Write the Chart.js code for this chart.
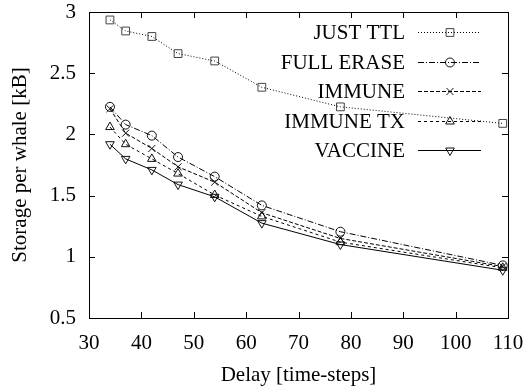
<!DOCTYPE html>
<html>
<head>
<meta charset="utf-8">
<script src="https://cdn.jsdelivr.net/npm/chart.js@4/dist/chart.umd.min.js"></script>
<style>html,body{margin:0;padding:0;background:#fff}</style>
</head>
<body>
<canvas id="c" width="526" height="390"></canvas>
<script>
var delays = [34, 37, 42, 47, 54, 63, 78, 109];
var seriesNames = ['JUST TTL', 'FULL ERASE', 'IMMUNE', 'IMMUNE TX', 'VACCINE'];
var justTtl   = [2.935, 2.845, 2.80, 2.66, 2.60, 2.385, 2.225, 2.09];
var fullErase = [2.225, 2.08, 1.99, 1.815, 1.655, 1.42, 1.205, 0.93];
var immune    = [2.21, 2.01, 1.885, 1.735, 1.61, 1.36, 1.15, 0.92];
var immuneTx  = [2.06, 1.92, 1.80, 1.68, 1.505, 1.33, 1.12, 0.91];
var vaccine   = [1.92, 1.80, 1.71, 1.59, 1.49, 1.275, 1.10, 0.89];
var xTicks = [30, 40, 50, 60, 70, 80, 90, 100, 110];
var yTicks = [0.5, 1, 1.5, 2, 2.5, 3];

var FONT = '"Liberation Serif", "DejaVu Serif", serif';
var styles = [
    {dash: [1, 2],       point: 'rect',     radius: 5.5, rot: 0},
    {dash: [6, 2, 1, 2], point: 'circle',   radius: 4.5, rot: 0},
    {dash: [4, 2],       point: 'crossRot', radius: 5,   rot: 0},
    {dash: [3, 3],       point: 'triangle', radius: 5,   rot: 0},
    {dash: [],           point: 'triangle', radius: 5,   rot: 180}
];
var values = [justTtl, fullErase, immune, immuneTx, vaccine];

function pairs(ys) {
    return delays.map(function(d, i) { return {x: d, y: ys[i]}; });
}

var datasets = values.map(function(ys, i) {
    var s = styles[i];
    return {
        label: seriesNames[i],
        data: pairs(ys),
        borderColor: '#000',
        borderWidth: 1,
        borderDash: s.dash,
        pointStyle: s.point,
        pointRadius: s.radius,
        pointRotation: s.rot,
        pointBorderColor: i == 0 ? '#444' : '#111',
        pointBorderWidth: 1,
        pointBackgroundColor: 'rgba(0,0,0,0)',
        tension: 0
    };
});

// gnuplot style box with inward ticks on all sides
var frame = {
    id: 'frame',
    afterDraw: function(chart) {
        var ctx = chart.ctx, a = chart.chartArea;
        var xs = chart.scales.x, ys = chart.scales.y, len = 6;
        ctx.save();
        ctx.strokeStyle = '#000';
        ctx.lineWidth = 1;
        ctx.setLineDash([]);
        ctx.strokeRect(Math.round(a.left) + 0.5, Math.round(a.top) + 0.5,
            Math.round(a.right - a.left), Math.round(a.bottom - a.top));
        ctx.beginPath();
        xTicks.forEach(function(v) {
            var px = Math.round(xs.getPixelForValue(v)) + 0.5;
            ctx.moveTo(px, a.bottom); ctx.lineTo(px, a.bottom - len);
            ctx.moveTo(px, a.top); ctx.lineTo(px, a.top + len);
        });
        yTicks.forEach(function(v) {
            var py = Math.round(ys.getPixelForValue(v)) + 0.5;
            ctx.moveTo(a.left, py); ctx.lineTo(a.left + len, py);
            ctx.moveTo(a.right, py); ctx.lineTo(a.right - len, py);
        });
        ctx.stroke();
        ctx.restore();
    }
};

function marker(ctx, kind, rot, r, x, y) {
    ctx.beginPath();
    if (kind == 'rect') {
        var s = r * Math.SQRT1_2;
        ctx.rect(x - s, y - s, 2 * s, 2 * s);
    } else if (kind == 'circle') {
        ctx.arc(x, y, r, 0, Math.PI * 2);
    } else if (kind == 'crossRot') {
        var c = r * Math.SQRT1_2;
        ctx.moveTo(x - c, y - c); ctx.lineTo(x + c, y + c);
        ctx.moveTo(x - c, y + c); ctx.lineTo(x + c, y - c);
    } else {
        var t = rot * Math.PI / 180;
        for (var k = 0; k < 3; k++) {
            var ang = t - Math.PI / 2 + k * 2 * Math.PI / 3;
            var px = x + Math.cos(ang) * r, py = y + Math.sin(ang) * r;
            if (k == 0) ctx.moveTo(px, py); else ctx.lineTo(px, py);
        }
        ctx.closePath();
    }
    ctx.stroke();
}

// legend: text right aligned, then line sample with marker
var keyBox = {
    id: 'keyBox',
    afterDraw: function(chart) {
        var ctx = chart.ctx;
        var rows = [32, 62, 91, 121, 150];
        ctx.save();
        ctx.font = '21px ' + FONT;
        ctx.fillStyle = '#000';
        ctx.textAlign = 'right';
        ctx.textBaseline = 'middle';
        chart.data.datasets.forEach(function(ds, i) {
            var y = rows[i];
            ctx.fillText(ds.label, 405, y + 1);
            ctx.strokeStyle = '#000';
            ctx.lineWidth = 1;
            ctx.setLineDash(ds.borderDash);
            ctx.beginPath();
            ctx.moveTo(418, y + 0.5); ctx.lineTo(481, y + 0.5);
            ctx.stroke();
            ctx.setLineDash([]);
            ctx.strokeStyle = ds.pointBorderColor;
            marker(ctx, ds.pointStyle, ds.pointRotation, ds.pointRadius, 450, y + 0.5);
        });
        ctx.restore();
    }
};

function draw() {
    new Chart(document.getElementById('c').getContext('2d'), {
        type: 'line',
        data: {datasets: datasets},
        options: {
            responsive: false,
            animation: false,
            layout: {padding: 0},
            plugins: {legend: {display: false}, tooltip: {enabled: false}},
            scales: {
                x: {
                    type: 'linear',
                    min: 30, max: 110,
                    afterFit: function(s) { s.height = 72; s.paddingLeft = 0; s.paddingRight = 18; },
                    afterBuildTicks: function(s) { s.ticks = xTicks.map(function(v) { return {value: v}; }); },
                    grid: {display: false, drawTicks: false},
                    border: {display: false},
                    ticks: {color: '#000', padding: 13, maxRotation: 0, font: {family: FONT, size: 21}},
                    title: {display: true, text: 'Delay [time-steps]', color: '#000',
                            padding: {top: 0, bottom: 2}, font: {family: FONT, size: 21}}
                },
                y: {
                    min: 0.5, max: 3,
                    afterFit: function(s) { s.width = 89; s.paddingTop = 12; s.paddingBottom = 0; },
                    afterBuildTicks: function(s) { s.ticks = yTicks.map(function(v) { return {value: v}; }); },
                    grid: {display: false, drawTicks: false},
                    border: {display: false},
                    ticks: {color: '#000', padding: 13, font: {family: FONT, size: 21},
                            callback: function(v) { return String(v); }},
                    title: {display: true, text: 'Storage per whale [kB]', color: '#000',
                            padding: {top: 8, bottom: 0}, font: {family: FONT, size: 21}}
                }
            }
        },
        plugins: [frame, keyBox]
    });
}

if (document.fonts && document.fonts.load) {
    document.fonts.load('21px "Liberation Serif"').then(draw, draw);
} else {
    draw();
}
</script>
</body>
</html>
